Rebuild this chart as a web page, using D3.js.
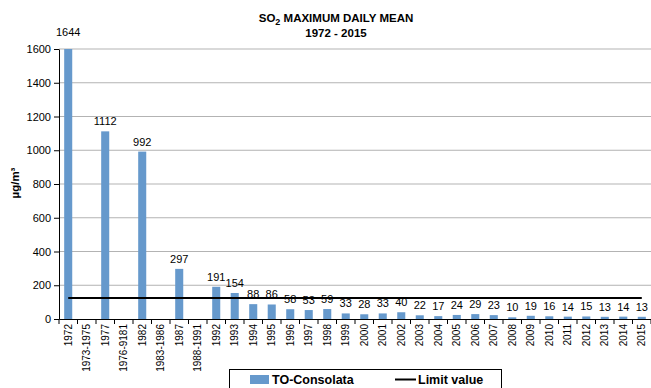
<!DOCTYPE html>
<html><head><meta charset="utf-8">
<script src="https://cdn.jsdelivr.net/npm/d3@7"></script>
<style>body{margin:0;background:#fff}svg{display:block;font-family:Arial,"Liberation Sans",sans-serif}</style>
</head><body>
<svg id="c" width="651" height="388"></svg>
<script>
const categories = ["1972","1973-1975","1977","1976-9181","1982","1983-1986","1987","1988-1991","1992","1993","1994","1995","1996","1997","1998","1999","2000","2001","2002","2003","2004","2005","2006","2007","2008","2009","2010","2011","2012","2013","2014","2015"];
const values = [1644,null,1112,null,992,null,297,null,191,154,88,86,58,53,59,33,28,33,40,22,17,24,29,23,10,19,16,14,15,13,14,13];
const limitValue = 125;
const yTicks = [0,200,400,600,800,1000,1200,1400,1600];

const svg = d3.select("#c");
const L = 59, R = 651, T = 49, B = 319;
const x = d3.scaleBand().domain(categories).range([L, R]).paddingInner(0.565).paddingOuter(0.28);
const y = d3.scaleLinear().domain([0,1600]).range([B, T]);

// gridlines
svg.append("g").selectAll("line").data(yTicks.filter(d=>d>0)).join("line")
  .attr("x1", L).attr("x2", R).attr("y1", d=>y(d)).attr("y2", d=>y(d))
  .attr("stroke", "#b3b3b3").attr("stroke-width", 1);

// bars
const data = categories.map((c,i)=>({c, v: values[i]})).filter(d=>d.v!=null);
svg.append("g").selectAll("rect").data(data).join("rect")
  .attr("x", d=>x(d.c)).attr("width", x.bandwidth())
  .attr("y", d=>y(Math.min(d.v,1600))).attr("height", d=>B - y(Math.min(d.v,1600)))
  .attr("fill", "#6699cc");

// limit line
svg.append("line")
  .attr("x1", x(categories[0]) + x.bandwidth()/2)
  .attr("x2", x(categories[categories.length-1]) + x.bandwidth()/2)
  .attr("y1", y(limitValue)).attr("y2", y(limitValue))
  .attr("stroke", "#000").attr("stroke-width", 2);

// value labels
svg.append("g").selectAll("text").data(data).join("text")
  .attr("x", d=>x(d.c)+x.bandwidth()/2).attr("y", d=>y(d.v)-6)
  .attr("text-anchor","middle").attr("font-size","11px").attr("fill","#000")
  .text(d=>d.v);

// y axis
const ya = svg.append("g").attr("transform",`translate(${L},0)`)
  .call(d3.axisLeft(y).tickValues(yTicks).tickFormat(d3.format("d")).tickSize(5).tickPadding(3).tickSizeOuter(0));
ya.select(".domain").attr("stroke","#000");
ya.selectAll(".tick line").attr("stroke","#000");
ya.selectAll("text").attr("font-size","11px").attr("fill","#000").attr("font-family","Arial, 'Liberation Sans', sans-serif");

// x axis
const xa = svg.append("g").attr("transform",`translate(0,${B})`)
  .call(d3.axisBottom(x).tickSize(0).tickSizeOuter(0));
xa.select(".domain").attr("stroke","#000");
xa.selectAll(".tick text").remove();
const bounds = d3.range(categories.length+1).map(i=>L + i*(R-L)/categories.length);
xa.selectAll("line.b").data(bounds).join("line").attr("class","b")
  .attr("x1",d=>d).attr("x2",d=>d).attr("y1",0).attr("y2",5).attr("stroke","#000");
svg.append("g").selectAll("text").data(categories).join("text")
  .attr("transform", d=>`translate(${x(d)+x.bandwidth()/2+3.5},${B+5}) rotate(-90)`)
  .attr("text-anchor","end").attr("font-size","10px").attr("fill","#000").text(d=>d);

// title
const title = svg.append("text").attr("x",336).attr("y",22).attr("text-anchor","middle")
  .attr("font-size","11.5px").attr("font-weight","bold");
title.append("tspan").text("SO");
title.append("tspan").attr("font-size","9px").attr("dy",2.5).text("2");
title.append("tspan").attr("dy",-2.5).text(" MAXIMUM DAILY MEAN");
svg.append("text").attr("x",336).attr("y",37).attr("text-anchor","middle")
  .attr("font-size","11.5px").attr("font-weight","bold").text("1972 - 2015");

// y label
svg.append("text").attr("transform","translate(19,183) rotate(-90)").attr("text-anchor","middle")
  .attr("font-size","11.5px").attr("font-weight","bold").text("µg/m³");

// legend
svg.append("rect").attr("x",229.5).attr("y",369.5).attr("width",272).attr("height",24)
  .attr("fill","#fff").attr("stroke","#000");
svg.append("rect").attr("x",250).attr("y",375).attr("width",19).attr("height",9).attr("fill","#6699cc");
svg.append("text").attr("x",272).attr("y",384).attr("font-size","12.5px").attr("font-weight","bold").text("TO-Consolata");
svg.append("line").attr("x1",395).attr("x2",416).attr("y1",379.5).attr("y2",379.5).attr("stroke","#000").attr("stroke-width",2);
svg.append("text").attr("x",418).attr("y",384).attr("font-size","12.5px").attr("font-weight","bold").text("Limit value");
</script>
</body></html>
